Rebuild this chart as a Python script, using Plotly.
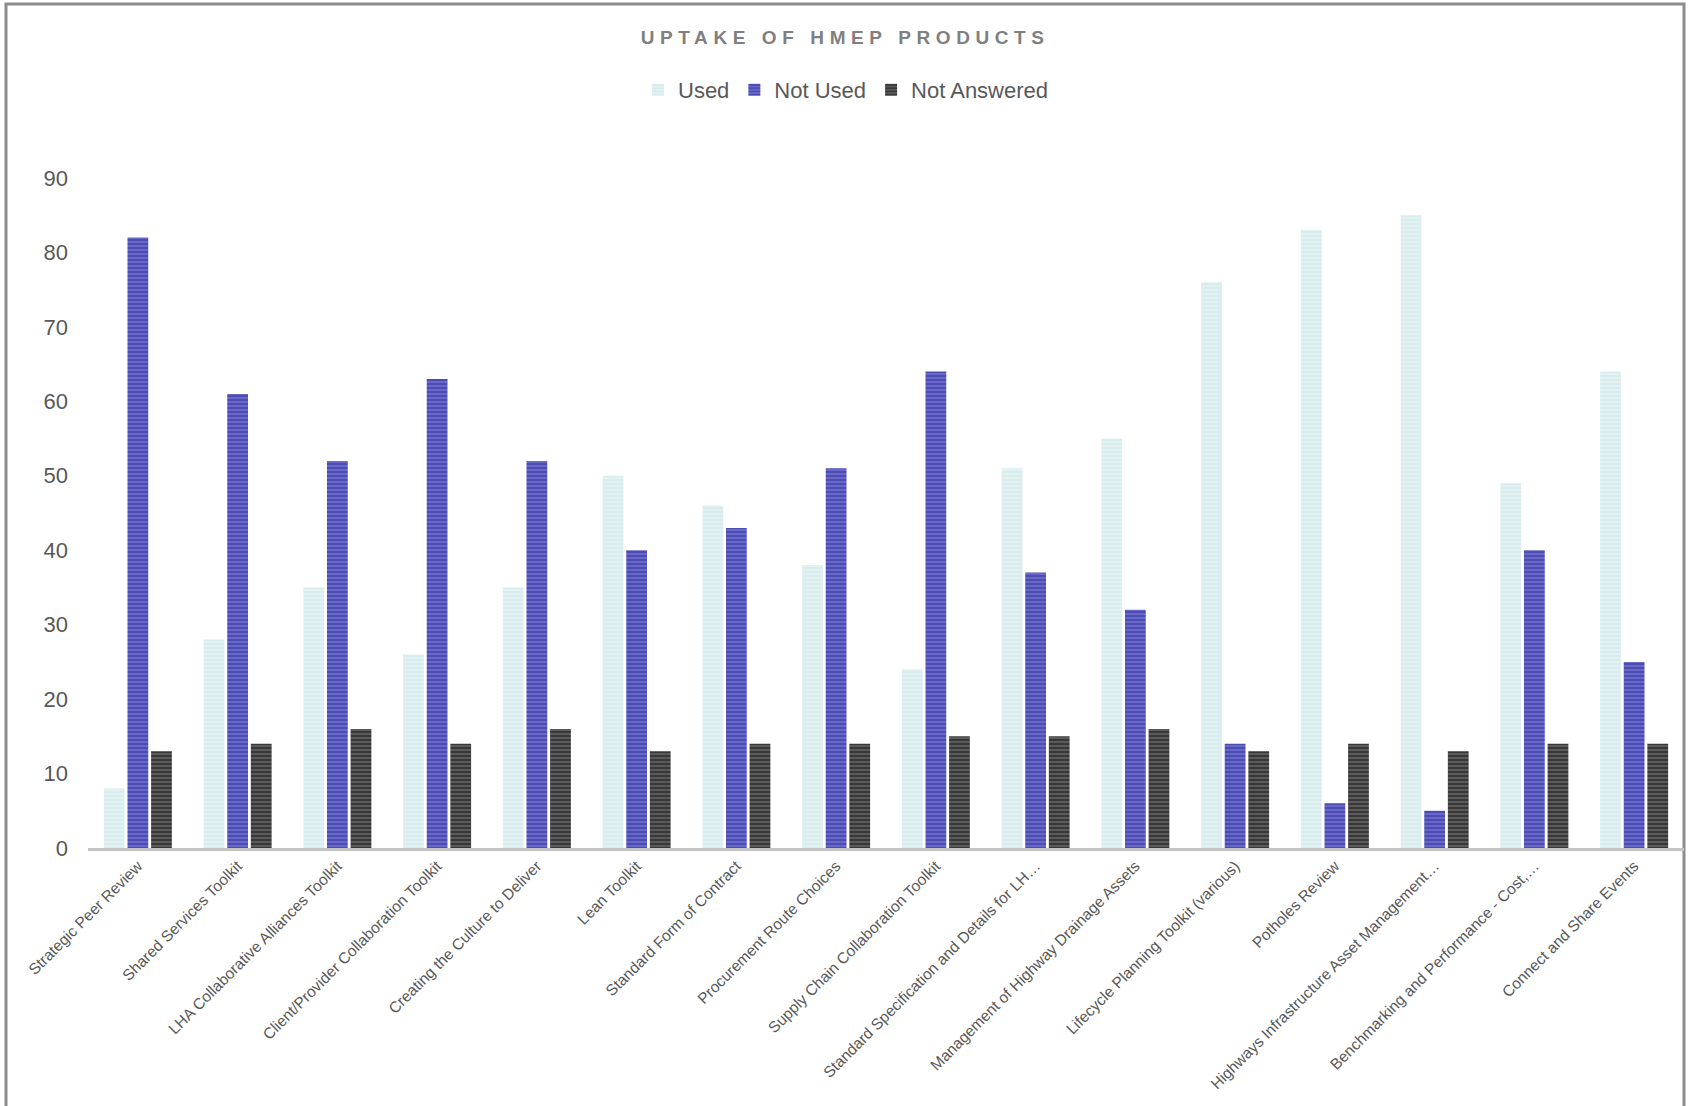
import plotly.graph_objects as go

categories = [
    "Strategic Peer Review",
    "Shared Services Toolkit",
    "LHA Collaborative Alliances Toolkit",
    "Client/Provider Collaboration Toolkit",
    "Creating the Culture to Deliver",
    "Lean Toolkit",
    "Standard Form of Contract",
    "Procurement Route Choices",
    "Supply Chain Collaboration Toolkit",
    "Standard Specification and Details for LH…",
    "Management of Highway Drainage Assets",
    "Lifecycle Planning Toolkit (various)",
    "Potholes Review",
    "Highways Infrastructure Asset Management…",
    "Benchmarking and Performance - Cost,…",
    "Connect and Share Events",
]
used = [8, 28, 35, 26, 35, 50, 46, 38, 24, 51, 55, 76, 83, 85, 49, 64]
not_used = [82, 61, 52, 63, 52, 40, 43, 51, 64, 37, 32, 14, 6, 5, 40, 25]
not_answered = [13, 14, 16, 14, 16, 13, 14, 14, 15, 15, 16, 13, 14, 13, 14, 14]
y_ticks = [0, 10, 20, 30, 40, 50, 60, 70, 80, 90]

FONT = "Liberation Sans, Arial, sans-serif"
TXT = "#595959"

series = [
    ("Used", used, "#e2f1f2", "#c6e1e4", 0.35),
    ("Not Used", not_used, "#6a6acc", "#2e2e96", 0.55),
    ("Not Answered", not_answered, "#707070", "#000000", 0.7),
]

fig = go.Figure()
for name, vals, bg, fg, sol in series:
    fig.add_trace(go.Bar(
        x=categories, y=vals, name=name,
        marker=dict(
            color=bg,
            line=dict(width=0),
            pattern=dict(shape="-", fgcolor=fg, bgcolor=bg, size=4, solidity=sol, fillmode="overlay"),
        ),
    ))

W, H = 1692, 1106
L, R, T, B = 88, 8, 178, 258
pw, ph = W - L - R, H - T - B

def px_x(p):
    return (p - L) / pw

def px_y(p):
    return (H - B - p) / ph

fig.update_layout(
    width=W, height=H,
    margin=dict(l=L, r=R, t=T, b=B),
    paper_bgcolor="white", plot_bgcolor="white",
    barmode="group", bargap=0.29, bargroupgap=0.12,
    font=dict(family=FONT, color=TXT),
    title=dict(
        text='<span style="letter-spacing:5.6px">UPTAKE OF HMEP PRODUCTS</span>',
        font=dict(family=FONT, size=19, color="#808080", weight="bold"),
        x=0.4995, xref="container", xanchor="center",
        y=1 - 37 / H, yref="container", yanchor="middle",
    ),
    legend=dict(
        orientation="h", x=px_x(846), xanchor="center", y=px_y(90), yanchor="middle",
        font=dict(family=FONT, size=22, color=TXT),
        itemwidth=30, traceorder="normal", bgcolor="rgba(0,0,0,0)",
    ),
    xaxis=dict(
        tickangle=-45, tickfont=dict(family=FONT, size=15.5, color=TXT),
        showline=True, linecolor="#c4c4c4", linewidth=3, ticks="",
        showgrid=False, zeroline=False,
    ),
    yaxis=dict(
        range=[0, 90], tickvals=y_ticks, tickfont=dict(family=FONT, size=22, color=TXT),
        showgrid=False, zeroline=False, showline=False, ticks="",
        ticklabelstandoff=19,
    ),
    shapes=[dict(
        type="rect", xref="paper", yref="paper",
        x0=px_x(6), x1=px_x(1684), y0=px_y(1112), y1=px_y(4),
        line=dict(color="#8c8c8c", width=3), fillcolor="rgba(0,0,0,0)", layer="below",
    )],
)

fig.write_html("out.html")
